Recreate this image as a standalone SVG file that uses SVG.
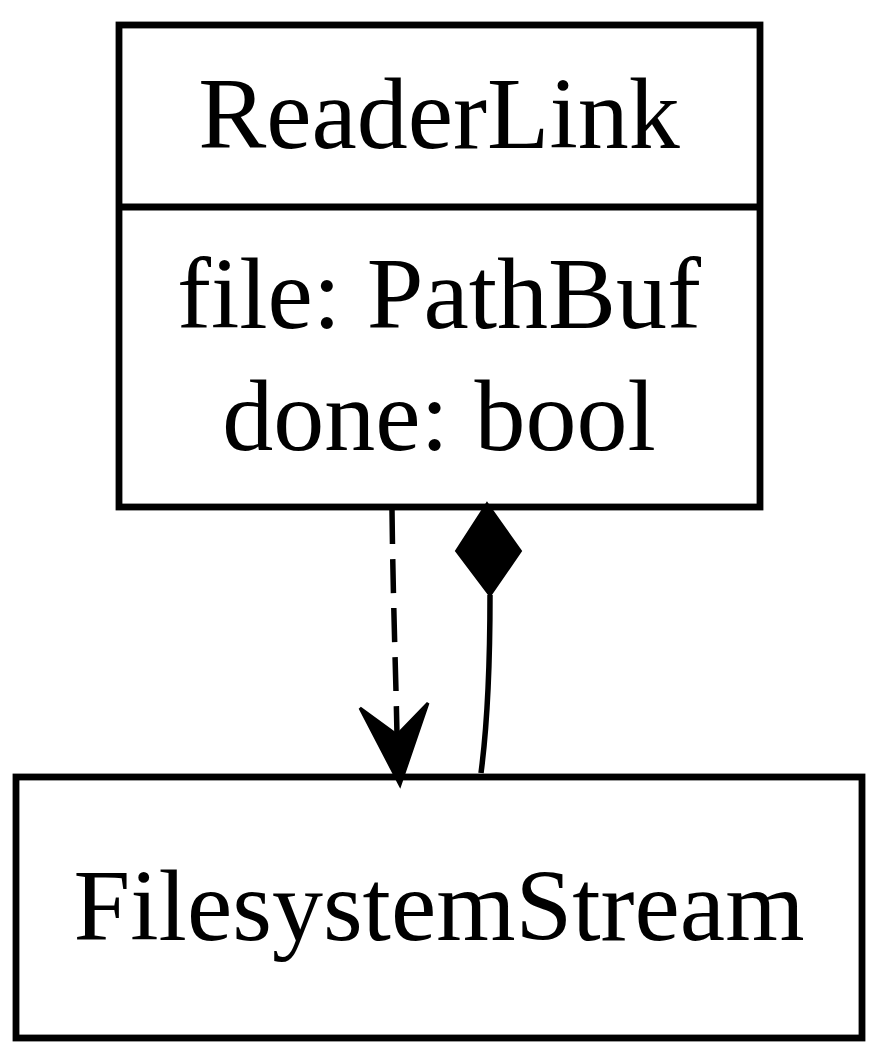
<svg xmlns="http://www.w3.org/2000/svg" width="882" height="1064" viewBox="0 0 882 1064">
<style>
.box{fill:#fff;stroke:#000;stroke-width:6.8}
.t{font-family:"Liberation Serif","Times New Roman",serif;font-size:102px;fill:#000;text-anchor:middle}
.e{fill:none;stroke:#000;stroke-width:5.5}
</style>
<rect width="882" height="1064" fill="#fff"/>
<g id="ReaderLink">
<rect class="box" x="119" y="25" width="641" height="482"/>
<line class="box" x1="119" y1="207" x2="760" y2="207"/>
<text class="t" x="439" y="148">ReaderLink</text>
<text class="t" x="439" y="328">file: PathBuf</text>
<text class="t" x="439" y="450">done: bool</text>
</g>
<g id="FilesystemStream">
<rect class="box" x="16" y="777" width="846" height="261"/>
<text class="t" x="439" y="940">FilesystemStream</text>
</g>
<g id="connectors">
<path class="e" d="M392,510 C393,600 396,680 397,735" stroke-dasharray="34,15"/>
<path d="M400,785 L360,708 L397,735 L428,703 Z" fill="#000" stroke="#000" stroke-width="3" stroke-linejoin="miter"/>
<path class="e" d="M490,595 C490,660 488,720 481,773"/>
<path d="M487,503 L521,551 L490,596 L456,551 Z" fill="#000" stroke="#000" stroke-width="2"/>
</g>
</svg>
